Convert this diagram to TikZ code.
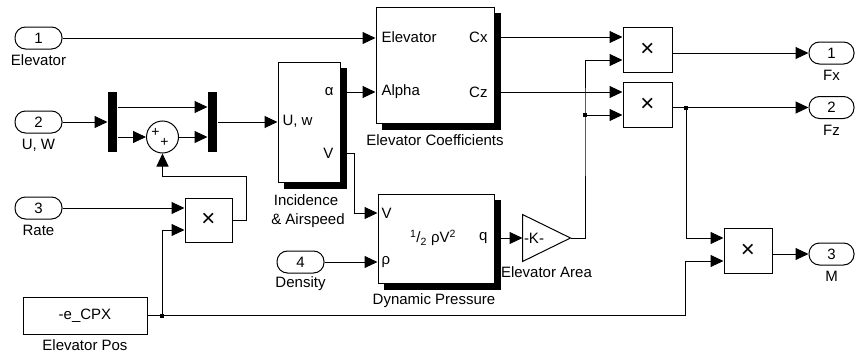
\documentclass[tikz,border=0pt]{standalone}
\usepackage{fontspec}
\setmainfont{Liberation Sans}
\usetikzlibrary{arrows.meta,backgrounds}
\begin{document}
\begin{tikzpicture}[x=1pt,y=-1pt,line width=1pt,
  every node/.style={font=\fontsize{15}{17}\selectfont,inner sep=0pt},
  sig/.style={-{Triangle[length=13pt,width=12pt]}},
  blk/.style={draw,fill=white},
  prod/.style={draw,fill=white,font=\fontsize{24}{24}\selectfont},
  port/.style={draw,fill=white,rounded corners=10.5pt,minimum width=47pt,minimum height=22pt},
  bar/.style={fill=black,minimum width=9pt,minimum height=60pt},
  dot/.style={fill=black,minimum size=4pt}
]
\useasboundingbox (0,0) rectangle (855,356);
% inports
\node[port] (in1) at (38.5,38) {1};
\node (in1l) at (38.5,60) {Elevator};
\node[port] (in2) at (38.5,122) {2};
\node (in2l) at (38.5,145) {U, W};
\node[port] (in3) at (38.5,208) {3};
\node (in3l) at (38.5,230) {Rate};
\node[port] (in4) at (300.5,262) {4};
\node (in4l) at (300.5,284) {Density};
% outports
\node[port,minimum width=45pt] (out1) at (831.5,53) {1};
\node (out1l) at (831.5,75) {Fx};
\node[port,minimum width=45pt] (out2) at (831.5,107.5) {2};
\node (out2l) at (831.5,130) {Fz};
\node[port,minimum width=45pt] (out3) at (831.5,254) {3};
\node (out3l) at (831.5,276) {M};
% demux / mux / sum
\node[bar] (dmx) at (112.5,122) {};
\node[bar] (mx) at (212.5,122) {};
\node[draw,circle,minimum size=32pt] (sum) at (162.5,137) {};
\node (sump1) at (155.5,132) {\fontsize{14}{14}\selectfont +};
\node (sump2) at (164.5,142) {\fontsize{14}{14}\selectfont +};
% incidence
\node[blk,minimum width=62pt,minimum height=120pt] (inc) at (309,122) {};
\node[anchor=west] (incU) at (282,121) {U, w};
\node[anchor=east] (incA) at (334,92) {α};
\node[anchor=east] (incV) at (334,153) {V};
\node (incl1) at (306,200) {Incidence};
\node (incl2) at (308,221) {\& Airspeed};
% elevator coefficients
\node[blk,minimum width=118pt,minimum height=116pt] (ec) at (435,65) {};
\node[anchor=west] (ecE) at (381,37) {Elevator};
\node[anchor=west] (ecA) at (381,92) {Alpha};
\node[anchor=east] (ecX) at (488,37) {Cx};
\node[anchor=east] (ecZ) at (488,92) {Cz};
\node (ecl) at (435,140) {Elevator Coefficients};
% dynamic pressure
\node[blk,minimum width=116pt,minimum height=89pt] (dp) at (436,238.5) {};
\node[anchor=west] (dpV) at (381,213) {V};
\node[anchor=west] (dpR) at (381,262) {ρ};
\node[anchor=east] (dpQ) at (488,238) {q};
\node (dpf) at (433,238) {\textsuperscript{1}/\textsubscript{2} ρV\textsuperscript{2}};
\node (dpl) at (434,301) {Dynamic Pressure};
% shadows
\begin{scope}[on background layer]
\foreach \b in {inc,ec,dp}
  \fill ([shift={(6,6)}]\b.north west) rectangle ([shift={(6,6)}]\b.south east);
\end{scope}
% gain
\node[minimum width=47pt,minimum height=46pt] (gain) at (546.5,238) {};
\draw (gain.north west) -- (gain.east) -- (gain.south west) -- cycle;
\node[anchor=west] (gk) at ([xshift=1pt]gain.west) {-K-};
\node (gl) at (546.5,272) {Elevator Area};
% products
\node[prod,minimum width=47pt,minimum height=44pt] (p1) at (208.5,220) {×};
\node[prod,minimum width=49pt,minimum height=45pt] (pfx) at (647.5,49.5) {×};
\node[prod,minimum width=49pt,minimum height=45pt] (pfz) at (647.5,104.5) {×};
\node[prod,minimum width=48pt,minimum height=45pt] (pm) at (748,250.5) {×};
% constant
\node[blk,minimum width=124pt,minimum height=37pt] (cst) at (85,315.5) {-e\_CPX};
\node (cstl) at (85,345) {Elevator Pos};
% branch points
\node[dot] (b1) at (162,315.5) {};
\node[dot] (b2) at (585,115) {};
\node[dot] (b3) at (686,107.5) {};
\coordinate (c1) at (685,261);
% connectors
\draw[sig] (in1.east) -- (ec.west |- in1.east);
\draw[sig] (in2.east) -- (dmx.west |- in2.east);
\draw[sig] (dmx.east |- 0,107) -- (mx.west |- 0,107);
\draw[sig] (dmx.east |- sum.west) -- (sum.west);
\draw[sig] (sum.east) -- (mx.west |- sum.east);
\draw[sig] (mx.east |- inc.west) -- (inc.west);
\draw[sig] (in3.east) -- (p1.west |- in3.east);
\draw[sig] (cst.east) -- (b1.center) |- (p1.west |- 0,230);
\draw[sig] (b1.center) -| (c1) -- (pm.west |- c1);
\draw[sig] (p1.east) -- ++(14,0) |- (sum.south |- 0,176) -- (sum.south);
\draw[sig] (inc.east |- 0,92) -- (ec.west |- 0,92);
\draw[sig] (inc.east |- 0,153) -- ++(14,0) |- (dp.west |- 0,213);
\draw[sig] (in4.east) -- (dp.west |- in4.east);
\draw[sig] (dp.east |- gain.west) -- (gain.west);
\draw[sig] (gain.east) -| (b2.center) |- (pfx.west |- 0,60);
\draw[sig] (b2.center) -- (pfz.west |- b2.center);
\draw[sig] (ec.east |- 0,37) -- (pfx.west |- 0,37);
\draw[sig] (ec.east |- 0,92) -- (pfz.west |- 0,92);
\draw[sig] (pfx.east |- out1.west) -- (out1.west);
\draw[sig] (pfz.east |- out2.west) -- (out2.west);
\draw[sig] (b3.center) |- (pm.west |- 0,238);
\draw[sig] (pm.east |- out3.west) -- (out3.west);
\end{tikzpicture}
\end{document}
